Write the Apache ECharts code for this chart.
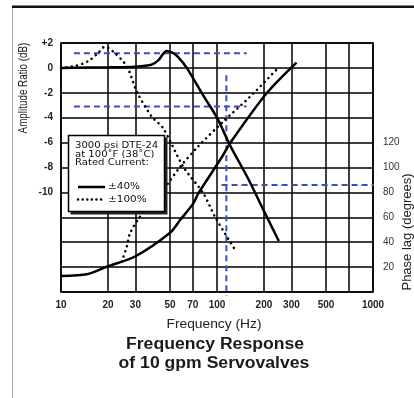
<!DOCTYPE html>
<html><head><meta charset="utf-8">
<script src="https://cdn.jsdelivr.net/npm/echarts@6/dist/echarts.min.js"></script>
<style>html,body{margin:0;padding:0;background:#fff}#c{width:414px;height:398px}</style>
</head><body><div id="c"></div><script>
// Axis ticks / labels
const freqTicks = [10, 20, 30, 50, 70, 100, 200, 300, 500, 700, 1000];
const freqLabels = [10, 20, 30, 50, 70, 100, 200, 300, 500, 1000];
const ampLabels = [2, 0, -2, -4, -6, -8, -10];
const phaseLabels = [20, 40, 60, 80, 100, 120];

// Amplitude ratio (dB), rated current ±40%
const ampFreq40 = [10, 20, 30, 38, 42, 45, 47.5, 52, 56, 64, 81, 100, 121, 160, 200, 249];
const amp40 = [0, 0.05, 0.1, 0.25, 0.6, 1.1, 1.35, 1.2, 0.9, 0, -2.15, -4, -6.2, -9, -11.5, -13.9];
// Amplitude ratio (dB), rated current ±100%
const ampFreq100 = [10, 12.3, 14.9, 17.3, 19.1, 21.5, 26.4, 30.6, 38.1, 45.1, 60.8, 81.7, 97, 130];
const amp100 = [0, 0.15, 0.53, 1.2, 1.7, 1.33, 0.13, -1.9, -3.9, -4.83, -7.94, -10.07, -11.95, -14.57];
// Phase lag (degrees), ±40%
const phFreq40 = [10, 14.9, 19.6, 29.8, 50, 58, 70.5, 76, 107, 121, 208, 323];
const phase40 = [12.85, 14.5, 20.3, 28.5, 47.6, 57.8, 71.2, 79.3, 108, 119.4, 159.6, 184.3];
// Phase lag (degrees), ±100%
const phFreq100 = [24.5, 26.4, 27.7, 32.1, 47.6, 58, 74.1, 109.6, 163, 247];
const phase100 = [24.5, 36.4, 47.1, 60.5, 85.9, 100.5, 115.7, 136.9, 156.9, 180];

// Blue dashed reference lines
const refPeakDb = 1.17, refMinus3Db = -3.1, refFreqStart = 12.1, refFreqEnd = 155;
const refBandFreq = 114.8, refBandTopDb = -0.6;
const refPhase = 86, refPhaseFreqStart = 107, refPhaseFreqEnd = 1350;

const zip = (a, b) => a.map((v, i) => [v, b[i]]);
const chart = echarts.init(document.getElementById('c'), null, {renderer: 'canvas'});
const FONT = 'Liberation Sans, Arial, sans-serif';
const blue = '#3d4fb8';
const dashStyle = {color: blue, width: 2, type: [6, 4]};
const dotStyle = {color: '#000', width: 2.6, type: [0.01, 5.4], cap: 'round'};
const refSeries = (data, yIndex) => ({
  type: 'line', data, yAxisIndex: yIndex, symbol: 'none', silent: true, clip: false,
  lineStyle: dashStyle, z: 3
});

chart.setOption({
  animation: false,
  backgroundColor: '#fff',
  grid: {left: 61, right: 41, top: 43, bottom: 106, show: true, borderColor: '#000', borderWidth: 1.5, backgroundColor: 'transparent'},
  xAxis: {
    type: 'log', logBase: 10, min: 10, max: 1000,
    axisLine: {show: false},
    axisTick: {show: false, customValues: freqTicks},
    axisLabel: {customValues: freqLabels, margin: 8, fontSize: 10, fontWeight: 'bold', color: '#222', fontFamily: FONT,
      formatter: v => String(Math.round(v))},
    splitLine: {show: true, lineStyle: {color: '#000', width: 1.5}},
    minorSplitLine: {show: false}
  },
  yAxis: [{
    type: 'value', min: -18, max: 2, interval: 2,
    axisLine: {show: false}, axisTick: {show: false},
    axisLabel: {customValues: ampLabels, margin: 8, fontSize: 10, fontWeight: 'bold', color: '#222', fontFamily: FONT,
      formatter: v => (v > 0 ? '+' + v : '' + v)},
    splitLine: {show: true, lineStyle: {color: '#000', width: 1.5}}
  }, {
    type: 'value', min: 0, max: 200, interval: 20, position: 'right',
    axisLine: {show: false}, axisTick: {show: false},
    axisLabel: {customValues: phaseLabels, margin: 10, fontSize: 10, color: '#333', fontFamily: FONT},
    splitLine: {show: false}
  }],
  series: [
    {name: 'amp40', type: 'line', data: zip(ampFreq40, amp40), yAxisIndex: 0, symbol: 'none', smooth: 0.3,
      lineStyle: {color: '#000', width: 2.5}, z: 4},
    {name: 'amp100', type: 'line', data: zip(ampFreq100, amp100), yAxisIndex: 0, symbol: 'none', smooth: 0.3,
      lineStyle: dotStyle, z: 4},
    {name: 'phase40', type: 'line', data: zip(phFreq40, phase40), yAxisIndex: 1, symbol: 'none', smooth: 0.3,
      lineStyle: {color: '#000', width: 2.5}, z: 4},
    {name: 'phase100', type: 'line', data: zip(phFreq100, phase100), yAxisIndex: 1, symbol: 'none', smooth: 0.3,
      lineStyle: dotStyle, z: 4},
    refSeries([[refFreqStart, refPeakDb], [refFreqEnd, refPeakDb]], 0),
    refSeries([[refFreqStart, refMinus3Db], [refFreqEnd, refMinus3Db]], 0),
    refSeries([[refBandFreq, refBandTopDb], [refBandFreq, -18.3]], 0),
    refSeries([[refPhaseFreqStart, refPhase], [refPhaseFreqEnd, refPhase]], 1)
  ],
  graphic: [
    {type: 'rect', shape: {x: 12, y: 5.5, width: 402, height: 2.5}, style: {fill: '#111'}, silent: true},
    {type: 'line', shape: {x1: 12.5, y1: 8, x2: 12.5, y2: 398}, style: {stroke: '#aaa', lineWidth: 1}, silent: true},
    {type: 'text', x: 24, y: 88, rotation: Math.PI / 2, scaleX: 0.82,
      style: {text: 'Amplitude Ratio (dB)', font: '12px "Liberation Sans", Arial', fill: '#222', textAlign: 'center', textVerticalAlign: 'middle'}},
    {type: 'text', x: 407, y: 232, rotation: Math.PI / 2,
      style: {text: 'Phase lag (degrees)', font: '13px "Liberation Sans", Arial', fill: '#222', textAlign: 'center', textVerticalAlign: 'middle'}},
    {type: 'text', x: 214, y: 325, scaleX: 1.15,
      style: {text: 'Frequency (Hz)', font: '12px "Liberation Sans", Arial', fill: '#222', textAlign: 'center', textVerticalAlign: 'middle'}},
    {type: 'text', x: 215, y: 345, scaleX: 1.1,
      style: {text: 'Frequency Response', font: 'bold 16px "Liberation Sans", Arial', fill: '#1a1a1a', textAlign: 'center', textVerticalAlign: 'middle'}},
    {type: 'text', x: 214, y: 364, scaleX: 1.1,
      style: {text: 'of 10 gpm Servovalves', font: 'bold 16px "Liberation Sans", Arial', fill: '#1a1a1a', textAlign: 'center', textVerticalAlign: 'middle'}},
    {type: 'group', z: 100, children: [
      {type: 'rect', z: 100, shape: {x: 70.5, y: 137.5, width: 97, height: 77}, style: {fill: '#222'}},
      {type: 'rect', z: 101, shape: {x: 68.5, y: 135.5, width: 96, height: 76}, style: {fill: '#fff', stroke: '#000', lineWidth: 1.5}},
      {type: 'text', z: 102, x: 75, y: 146, scaleX: 1.12, style: {text: '3000 psi DTE-24', font: '9px "DejaVu Sans", Arial', fill: '#111', textVerticalAlign: 'middle'}},
      {type: 'text', z: 102, x: 75, y: 154.5, scaleX: 1.12, style: {text: 'at 100˚F (38˚C)', font: '9px "DejaVu Sans", Arial', fill: '#111', textVerticalAlign: 'middle'}},
      {type: 'text', z: 102, x: 75, y: 163, scaleX: 1.12, style: {text: 'Rated Current:', font: '9px "DejaVu Sans", Arial', fill: '#111', textVerticalAlign: 'middle'}},
      {type: 'line', z: 102, shape: {x1: 78, y1: 187, x2: 105, y2: 187}, style: {stroke: '#000', lineWidth: 2.5}},
      {type: 'text', z: 102, x: 108, y: 187, scaleX: 1.1, style: {text: '±40%', font: '9.5px "DejaVu Sans", Arial', fill: '#111', textVerticalAlign: 'middle'}},
      {type: 'line', z: 102, shape: {x1: 78, y1: 199.5, x2: 105, y2: 199.5}, style: {stroke: '#000', lineWidth: 2.5, lineDash: [0.1, 4.5], lineCap: 'round'}},
      {type: 'text', z: 102, x: 108, y: 199.5, scaleX: 1.1, style: {text: '±100%', font: '9.5px "DejaVu Sans", Arial', fill: '#111', textVerticalAlign: 'middle'}}
    ]}
  ]
});
</script></body></html>
